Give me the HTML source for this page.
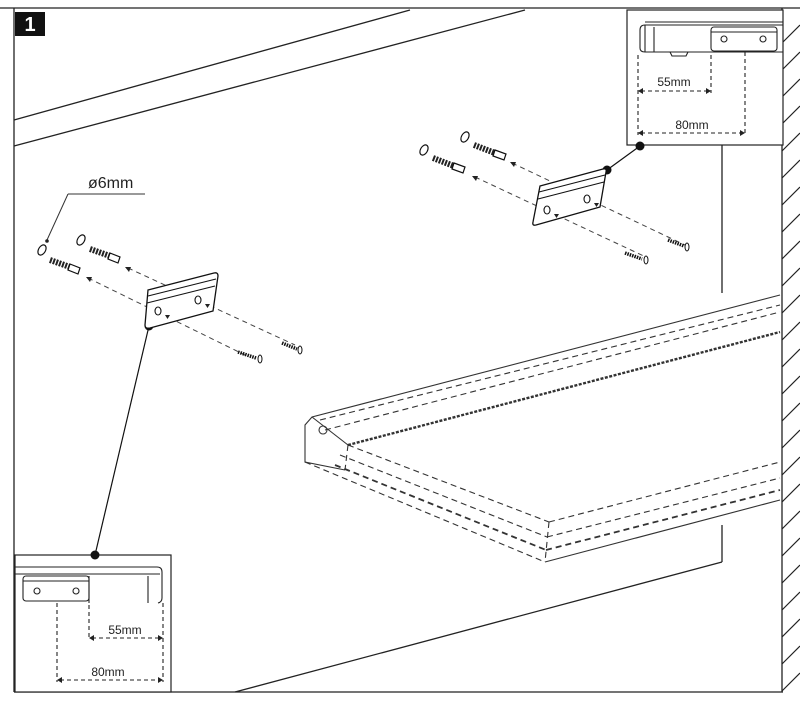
<!DOCTYPE html>
<html><head><meta charset="utf-8"><style>
html,body{margin:0;padding:0;background:#fff;}
svg{display:block;}
text{font-family:"Liberation Sans",sans-serif;fill:#222;}
</style></head><body>
<svg width="800" height="706" viewBox="0 0 800 706" xmlns="http://www.w3.org/2000/svg">
<g fill="none" stroke="#222" stroke-width="1.3">
  <line x1="0" y1="8" x2="800" y2="8"/>
  <line x1="14" y1="8" x2="14" y2="692"/>
  <line x1="14" y1="692" x2="783" y2="692"/>
  <line x1="782" y1="8" x2="782" y2="692"/>
  <line x1="14" y1="120" x2="410" y2="10"/>
  <line x1="14" y1="146" x2="525" y2="10"/>
  <line x1="235" y1="692" x2="722" y2="562"/>
  <line x1="722" y1="145" x2="722" y2="293"/>
  <line x1="722" y1="525" x2="722" y2="562"/>
</g>
<g stroke="#222" stroke-width="1.2">
  <line x1="782" y1="43" x2="800" y2="25"/><line x1="782" y1="70" x2="800" y2="52"/>
  <line x1="782" y1="97" x2="800" y2="79"/><line x1="782" y1="124" x2="800" y2="106"/>
  <line x1="782" y1="151" x2="800" y2="133"/><line x1="782" y1="178" x2="800" y2="160"/>
  <line x1="782" y1="205" x2="800" y2="187"/><line x1="782" y1="232" x2="800" y2="214"/>
  <line x1="782" y1="259" x2="800" y2="241"/><line x1="782" y1="286" x2="800" y2="268"/>
  <line x1="782" y1="313" x2="800" y2="295"/><line x1="782" y1="340" x2="800" y2="322"/>
  <line x1="782" y1="367" x2="800" y2="349"/><line x1="782" y1="394" x2="800" y2="376"/>
  <line x1="782" y1="421" x2="800" y2="403"/><line x1="782" y1="448" x2="800" y2="430"/>
  <line x1="782" y1="475" x2="800" y2="457"/><line x1="782" y1="502" x2="800" y2="484"/>
  <line x1="782" y1="529" x2="800" y2="511"/><line x1="782" y1="556" x2="800" y2="538"/>
  <line x1="782" y1="583" x2="800" y2="565"/><line x1="782" y1="610" x2="800" y2="592"/>
  <line x1="782" y1="637" x2="800" y2="619"/><line x1="782" y1="664" x2="800" y2="646"/>
  <line x1="782" y1="691" x2="800" y2="673"/>
</g>
<rect x="15" y="12" width="30" height="24" fill="#111"/>
<text x="30" y="31" font-size="20" font-weight="bold" text-anchor="middle" style="fill:#fff">1</text>

<g fill="none" stroke="#333" stroke-width="1.1">
  <polyline points="780,295 312,417 305,425 305,462 345,470"/>
  <line x1="312" y1="417" x2="348" y2="445"/>
  <line x1="348" y1="445" x2="780" y2="332" stroke-width="2.4" stroke-dasharray="3,1.5"/>
  <g stroke-dasharray="6,4">
    <line x1="320" y1="420" x2="780" y2="305"/>
    <line x1="325" y1="430" x2="780" y2="312"/>
    <line x1="348" y1="445" x2="549" y2="522"/>
    <line x1="549" y1="522" x2="780" y2="462"/>
    <line x1="340" y1="455" x2="547" y2="537"/>
    <line x1="547" y1="537" x2="780" y2="478"/>
    <line x1="335" y1="465" x2="546" y2="550" stroke-width="1.8"/>
    <line x1="546" y1="550" x2="780" y2="490" stroke-width="1.8"/>
    <line x1="305" y1="462" x2="545" y2="562"/>
    <line x1="549" y1="522" x2="545" y2="562"/>
    <line x1="348" y1="445" x2="345" y2="470"/>
  </g>
  <line x1="545" y1="562" x2="780" y2="500"/>
  <circle cx="323" cy="430" r="4"/>
</g>

<rect x="627" y="10" width="156" height="135" fill="#fff" stroke="#222" stroke-width="1.2"/>
<g fill="none" stroke="#222" stroke-width="1.1">
  <path d="M783,25 H645 Q640,25 640,30 V48 Q640,52 645,52"/>
  <line x1="645" y1="22" x2="783" y2="22"/>
  <line x1="645" y1="25" x2="645" y2="52"/>
  <line x1="654" y1="27" x2="654" y2="52"/>
  <line x1="645" y1="52" x2="783" y2="52"/>
  <rect x="711" y="27" width="66" height="24" rx="3"/>
  <line x1="711" y1="32" x2="777" y2="32"/>
  <circle cx="724" cy="39" r="3"/><circle cx="763" cy="39" r="3"/>
  <path d="M670,52 L672,56 L686,56 L688,52"/>
  <g stroke-dasharray="4,3">
    <line x1="638" y1="55" x2="638" y2="135"/>
    <line x1="711" y1="55" x2="711" y2="93"/>
    <line x1="745" y1="52" x2="745" y2="135"/>
    <line x1="641" y1="91" x2="708" y2="91"/>
    <line x1="641" y1="133" x2="742" y2="133"/>
  </g>
</g>
<g fill="#222">
  <path d="M638,91 l5,-3 v6z"/><path d="M711,91 l-5,-3 v6z"/>
  <path d="M638,133 l5,-3 v6z"/><path d="M745,133 l-5,-3 v6z"/>
</g>
<text x="674" y="86" font-size="12" text-anchor="middle">55mm</text>
<text x="692" y="129" font-size="12" text-anchor="middle">80mm</text>

<rect x="15" y="555" width="156" height="137" fill="#fff" stroke="#222" stroke-width="1.2"/>
<g fill="none" stroke="#222" stroke-width="1.1">
  <line x1="15" y1="567" x2="157" y2="567"/>
  <path d="M157,567 Q162,567 162,572 V598 Q162,602 158,603"/>
  <line x1="15" y1="574" x2="160" y2="574"/>
  <rect x="23" y="576" width="66" height="25" rx="3"/>
  <line x1="23" y1="581" x2="89" y2="581"/>
  <line x1="89" y1="576" x2="89" y2="603"/>
  <line x1="148" y1="576" x2="148" y2="603"/>
  <circle cx="37" cy="591" r="3"/><circle cx="76" cy="591" r="3"/>
  <g stroke-dasharray="4,3">
    <line x1="57" y1="603" x2="57" y2="682"/>
    <line x1="89" y1="605" x2="89" y2="640"/>
    <line x1="163" y1="603" x2="163" y2="682"/>
    <line x1="92" y1="638" x2="160" y2="638"/>
    <line x1="60" y1="680" x2="160" y2="680"/>
  </g>
</g>
<g fill="#222">
  <path d="M89,638 l5,-3 v6z"/><path d="M163,638 l-5,-3 v6z"/>
  <path d="M57,680 l5,-3 v6z"/><path d="M163,680 l-5,-3 v6z"/>
</g>
<text x="125" y="634" font-size="12" text-anchor="middle">55mm</text>
<text x="108" y="676" font-size="12" text-anchor="middle">80mm</text>

<g stroke="#111" stroke-width="1.2">
  <line x1="149" y1="326" x2="95" y2="555"/>
  <line x1="607" y1="170" x2="640" y2="146"/>
</g>
<g fill="#111">
  <circle cx="149" cy="326" r="4.5"/><circle cx="95" cy="555" r="4.5"/>
  <circle cx="607" cy="170" r="4.5"/><circle cx="640" cy="146" r="4.5"/>
</g>

<text x="88" y="188" font-size="16">ø6mm</text>
<g stroke="#333" stroke-width="1" fill="none">
  <line x1="68" y1="194" x2="145" y2="194"/>
  <line x1="68" y1="194" x2="47" y2="240"/>
</g>
<circle cx="47" cy="241" r="1.8" fill="#222"/>

<g stroke="#444" stroke-width="1" stroke-dasharray="5,4" fill="none">
  <line x1="128" y1="268" x2="295" y2="345"/>
  <line x1="88" y1="278" x2="245" y2="355"/>
  <line x1="512" y1="163" x2="685" y2="245"/>
  <line x1="475" y1="177" x2="648" y2="258"/>
</g>
<g fill="#222">
  <path d="M125,267 l6,0 l-2,5z"/><path d="M86,277 l6,0 l-2,5z"/>
  <path d="M510,162 l6,0 l-2,5z"/><path d="M472,176 l6,0 l-2,5z"/>
</g>

<g fill="#fff" stroke="#111" stroke-width="1.3">
  <path d="M148,290 L214,273 Q218,272 218,276 L213,311 L150,328 Q145,329 145,325 Z"/>
  <path d="M540,186 L603,169 Q607,168 606,172 L600,207 L536,225 Q532,226 533,222 Z"/>
</g>
<g fill="none" stroke="#111" stroke-width="1.1">
  <line x1="148" y1="296" x2="216" y2="279"/><line x1="147" y1="303" x2="215" y2="286"/>
  <ellipse cx="158" cy="311" rx="3" ry="4"/><ellipse cx="198" cy="300" rx="3" ry="4"/>
  <line x1="539" y1="192" x2="605" y2="175"/><line x1="538" y1="199" x2="604" y2="182"/>
  <ellipse cx="547" cy="210" rx="3" ry="4"/><ellipse cx="587" cy="199" rx="3" ry="4"/>
</g>
<g fill="#222">
  <path d="M165,315 l5,0 l-2.5,4z"/><path d="M205,304 l5,0 l-2.5,4z"/>
  <path d="M554,214 l5,0 l-2.5,4z"/><path d="M594,203 l5,0 l-2.5,4z"/>
</g>

<g fill="#fff" stroke="#111" stroke-width="1.2">
  <ellipse cx="42" cy="250" rx="3.5" ry="5.5" transform="rotate(30 42 250)"/>
  <ellipse cx="81" cy="240" rx="3.5" ry="5.5" transform="rotate(30 81 240)"/>
  <ellipse cx="424" cy="150" rx="3.5" ry="5.5" transform="rotate(30 424 150)"/>
  <ellipse cx="465" cy="137" rx="3.5" ry="5.5" transform="rotate(30 465 137)"/>
</g>
<g stroke="#222" stroke-width="6" stroke-dasharray="2,1.2" fill="none">
  <line x1="50" y1="260" x2="70" y2="267"/>
  <line x1="90" y1="249" x2="110" y2="256"/>
  <line x1="433" y1="158" x2="454" y2="166"/>
  <line x1="474" y1="145" x2="495" y2="153"/>
</g>
<g fill="#fff" stroke="#111" stroke-width="1.2">
  <path d="M70,264 L80,268 L78,274 L68,270 Z"/>
  <path d="M110,253 L120,257 L118,263 L108,259 Z"/>
  <path d="M454,163 L465,167 L463,173 L452,169 Z"/>
  <path d="M495,150 L506,154 L504,160 L493,156 Z"/>
</g>
<g stroke="#111" stroke-width="3.5" stroke-dasharray="1.5,1">
  <line x1="282" y1="343" x2="297" y2="349"/>
  <line x1="238" y1="352" x2="256" y2="358"/>
  <line x1="668" y1="240" x2="684" y2="246"/>
  <line x1="625" y1="253" x2="642" y2="259"/>
</g>
<g fill="#fff" stroke="#111" stroke-width="1">
  <ellipse cx="300" cy="350" rx="2" ry="4"/><ellipse cx="260" cy="359" rx="2" ry="4"/>
  <ellipse cx="687" cy="247" rx="2" ry="4"/><ellipse cx="646" cy="260" rx="2" ry="4"/>
</g>
</svg>
</body></html>
